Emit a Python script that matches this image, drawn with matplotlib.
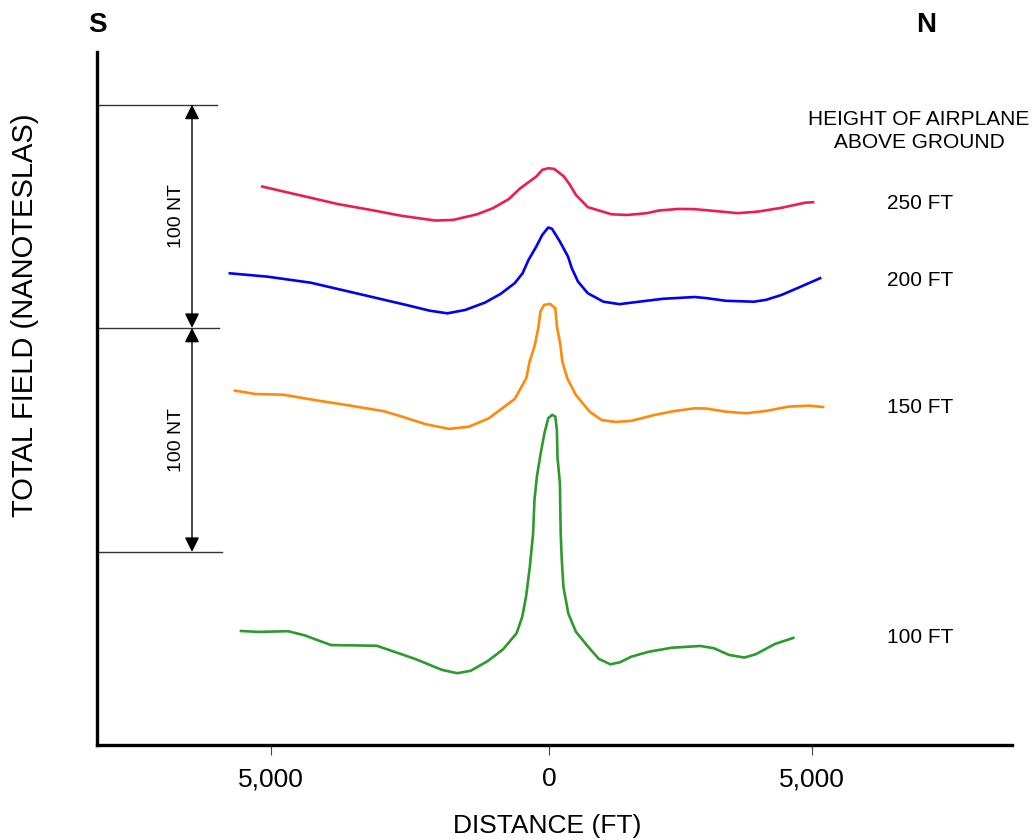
import numpy as np
import matplotlib
matplotlib.use('Agg')
from matplotlib import pyplot as plt

plt.rcParams['font.family'] = ['Liberation Sans', 'DejaVu Sans']

# profile data: distance (ft) and total field (nT, arbitrary offset per profile)
x_250 = [-5280, -3870, -3285, -2700, -2080, -1750, -1310, -1020, -725, -510, -215, -105, 5, 115, 295, 405, 515, 735, 1175, 1465, 1830, 2050, 2415, 2710, 3075, 3510, 3880, 4315, 4755, 4900]
y_250 = [249.8, 241.9, 239.4, 236.7, 234.6, 234.9, 237.4, 240.1, 244.2, 249.1, 254.3, 257.3, 258.0, 257.7, 254.3, 250.6, 246.1, 240.6, 237.4, 237.1, 237.9, 239.1, 239.8, 239.7, 238.9, 237.9, 238.6, 240.3, 242.6, 242.8]

x_200 = [-5880, -5185, -4385, -3870, -3285, -2630, -2190, -1860, -1530, -1165, -875, -615, -470, -360, -215, -105, 5, 75, 220, 370, 440, 555, 735, 1025, 1320, 1685, 2125, 2710, 2930, 3290, 3805, 4025, 4315, 4680, 5030]
y_200 = [211.0, 209.5, 206.8, 203.9, 200.6, 196.9, 194.3, 193.1, 194.6, 197.9, 201.8, 206.6, 211.0, 217.0, 223.0, 228.2, 231.5, 230.9, 225.2, 218.5, 213.3, 207.3, 202.1, 198.3, 197.2, 198.3, 199.6, 200.4, 199.9, 198.7, 198.3, 199.1, 201.3, 205.1, 208.8]

x_150 = [-5785, -5405, -4895, -4235, -3650, -3030, -2700, -2260, -1825, -1460, -1090, -615, -400, -340, -250, -180, -140, -70, 40, 135, 165, 225, 265, 355, 515, 770, 990, 1245, 1540, 1980, 2340, 2710, 2930, 3290, 3660, 4025, 4460, 4830, 5085]
y_150 = [158.5, 157.0, 156.7, 154.0, 151.8, 149.3, 146.9, 143.5, 141.4, 142.4, 146.2, 154.8, 164.1, 171.5, 178.2, 186.4, 193.9, 196.9, 197.3, 195.4, 187.2, 179.7, 171.5, 164.1, 156.6, 149.1, 145.4, 144.5, 145.0, 147.7, 149.4, 150.6, 150.5, 149.1, 148.4, 149.4, 151.4, 151.8, 151.2]

x_100 = [-5675, -5355, -4805, -4505, -4010, -3165, -2455, -1960, -1675, -1430, -1110, -830, -580, -475, -405, -335, -275, -250, -205, -135, -65, 5, 80, 135, 165, 175, 220, 235, 255, 285, 375, 515, 730, 940, 1155, 1330, 1540, 1860, 2285, 2815, 3065, 3345, 3630, 3840, 4195, 4535]
y_100 = [51.0, 50.6, 50.9, 49.1, 44.7, 44.4, 38.5, 33.6, 32.1, 33.2, 37.6, 42.8, 50.0, 57.4, 66.4, 79.8, 94.7, 109.6, 120.0, 130.5, 139.5, 146.2, 147.7, 146.9, 140.9, 129.0, 117.1, 94.7, 82.8, 70.8, 58.9, 50.7, 44.3, 38.5, 36.1, 37.0, 39.5, 41.7, 43.5, 44.3, 43.3, 40.3, 39.1, 40.6, 45.2, 47.9]

heights = ['250 FT', '200 FT', '150 FT', '100 FT']
label_y = [242.1, 208.0, 150.8, 48.3]
colors = ['#EE1D4F', '#0000F5', '#FF8A0A', '#2E9A2E']

# 100 nT scale bar levels
bar_levels = [86.4, 186.6, 286.4]
bar_ends = [-6030, -6080, -6120]

# tick marks as drawn on the original (slightly off-centre)
tick_pos = [-5120, 20, 4880]
tick_lbl = ['5,000', '0', '5,000']

fig = plt.figure(figsize=(10.36, 8.4), dpi=100)
ax = fig.add_axes([97/1036, 1-745/840, (1012-97)/1036, (745-52)/840])

for xs, ys, c in zip([x_250, x_200, x_150, x_100], [y_250, y_200, y_150, y_100], colors):
    ax.plot(xs, ys, color=c, lw=1.9, solid_joinstyle='round')

for lab, yy in zip(heights, label_y):
    ax.text(6880, yy, lab, ha='center', va='center', fontsize=15)

ax.text(6860, 274.7, 'HEIGHT OF AIRPLANE\nABOVE GROUND', ha='center', va='center',
        fontsize=15, linespacing=1.3)

# scale bar
x0 = -8336
for lev, xe in zip(bar_levels, bar_ends):
    ax.plot([x0, xe], [lev, lev], color='#333333', lw=1.0, clip_on=False)
for lo, hi in zip(bar_levels[:-1], bar_levels[1:]):
    ax.annotate('', xy=(-6580, lo), xytext=(-6580, hi),
                arrowprops=dict(arrowstyle='<|-|>', color='black', lw=1.0,
                                mutation_scale=22, shrinkA=0, shrinkB=0))
    ax.text(-6860, (lo + hi) / 2, '100 NT', rotation=90, ha='center', va='center', fontsize=14)

ax.set_xlim(-8336, 8577)
ax.set_ylim(0, 310)
ax.set_xticks(tick_pos)
ax.set_xticklabels(tick_lbl, fontsize=19)
ax.set_yticks([])
ax.tick_params(axis='x', length=7, width=0.8, color='#444444', pad=9)
for s in ['top', 'right']:
    ax.spines[s].set_visible(False)
for s in ['left', 'bottom']:
    ax.spines[s].set_linewidth(2.4)

fig.text(97/1036, 1-25/840, 'S', ha='center', va='center', fontsize=20, fontweight='bold')
fig.text(926/1036, 1-25/840, 'N', ha='center', va='center', fontsize=20, fontweight='bold')
fig.text(25/1036, 1-315/840, 'TOTAL FIELD (NANOTESLAS)', rotation=90, ha='center', va='center', fontsize=21)
fig.text(547/1036, 1-826/840, 'DISTANCE (FT)', ha='center', va='center', fontsize=19)

plt.savefig('out.png', dpi=100)
